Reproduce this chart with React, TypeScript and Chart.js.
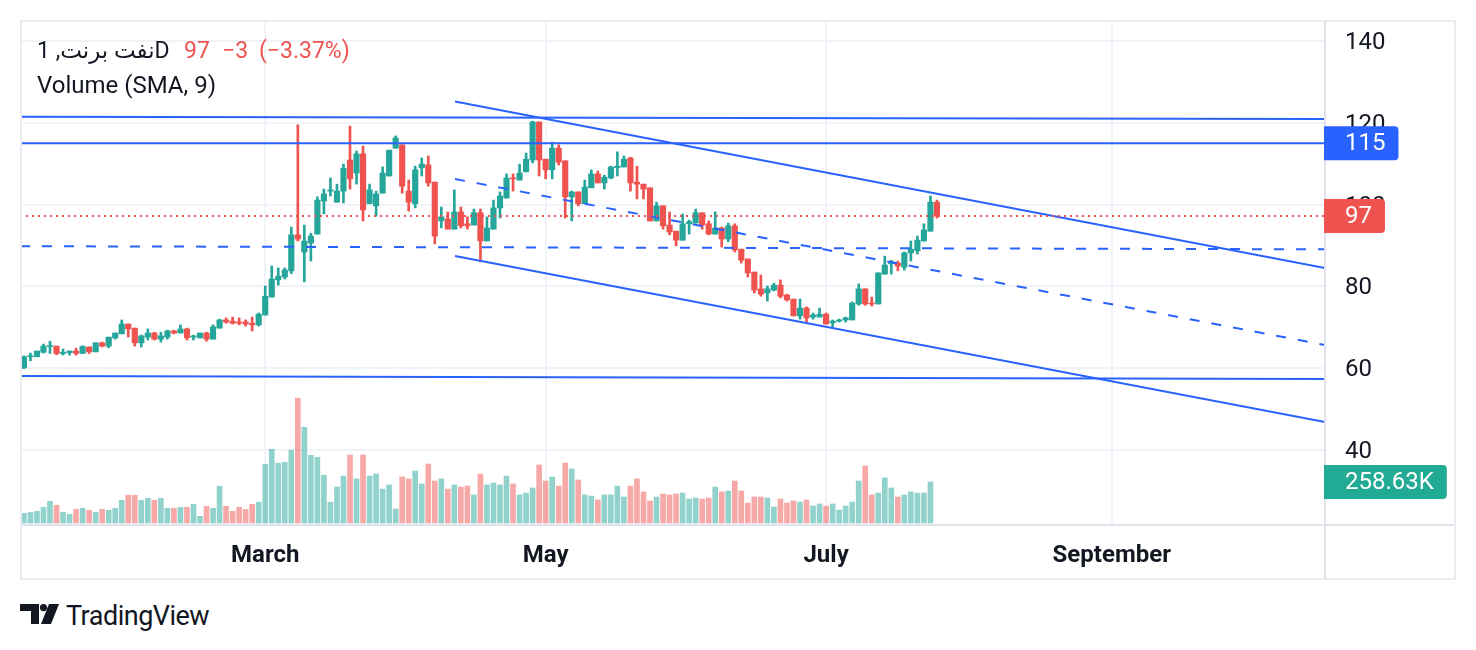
import { useEffect, useRef } from "react";
import { Chart, registerables } from "chart.js";

Chart.register(...registerables);

// Daily candles, index 0 = first bar on the left
const opens = [
  60.1, 62.8, 62.8, 63.9, 65.3, 65.4, 63.6, 63.8, 64.2, 63.6, 65.2, 64.0, 66.2, 65.4, 67.4, 68.4, 70.8, 69.8, 66.2, 67.6,
  68.6, 67.1, 67.6, 69.1, 68.6, 69.6, 67.6, 67.4, 68.6, 67.1, 69.8, 71.8, 71.5, 71.3, 71.3, 71.0, 70.6, 73.0, 77.4, 81.6,
  82.3, 83.8, 92.6, 88.4, 90.6, 92.8, 100.9, 103.3, 100.6, 103.3, 110.9, 107.7, 112.4, 100.2, 99.7, 102.8, 107.0, 113.8, 114.6, 103.3,
  100.2, 109.0, 109.7, 105.5, 96.0, 96.5, 94.0, 98.2, 95.3, 95.0, 98.0, 91.1, 94.0, 99.2, 101.6, 106.5, 106.0, 108.0, 110.9, 120.2,
  111.1, 108.5, 113.8, 110.7, 101.9, 103.1, 100.2, 104.1, 107.5, 105.3, 106.5, 109.0, 109.2, 111.4, 105.5, 105.0, 104.1, 96.0, 99.7, 95.0,
  93.5, 91.3, 95.3, 95.5, 98.0, 95.3, 92.8, 94.3, 91.6, 94.8, 89.1, 86.7, 83.5, 79.4, 78.4, 79.1, 80.3, 77.9, 76.9, 72.8,
  74.7, 72.5, 72.5, 73.2, 71.1, 71.5, 71.8, 71.8, 75.7, 79.4, 75.9, 75.7, 83.0, 85.5, 85.7, 84.7, 88.2, 88.7, 91.1, 93.5,
  100.6,
];
const highs = [
  63.0, 63.7, 64.2, 65.9, 66.6, 65.4, 64.7, 64.2, 64.9, 65.5, 65.2, 66.2, 66.4, 67.6, 68.6, 71.8, 70.8, 69.8, 68.1, 69.6,
  68.8, 68.8, 69.3, 69.3, 70.6, 69.8, 68.1, 68.6, 68.8, 70.6, 72.0, 72.3, 72.5, 72.3, 71.8, 72.5, 73.5, 80.1, 85.0, 84.5,
  84.5, 94.5, 119.5, 95.0, 93.0, 101.9, 103.8, 106.5, 105.0, 109.9, 119.2, 113.1, 114.3, 105.0, 103.3, 109.2, 113.3, 116.8, 114.6, 106.0,
  109.4, 111.4, 111.9, 105.5, 99.4, 98.2, 103.6, 99.4, 97.0, 98.9, 98.9, 97.0, 101.1, 103.1, 107.5, 107.5, 109.9, 112.6, 120.4, 120.2,
  111.1, 115.3, 114.6, 110.7, 103.3, 103.1, 106.0, 108.5, 108.2, 107.2, 109.4, 112.9, 111.9, 111.6, 109.4, 105.0, 104.1, 100.6, 99.7, 98.2,
  93.5, 97.7, 96.2, 98.9, 98.0, 96.0, 98.2, 94.5, 95.5, 95.3, 89.1, 86.7, 83.5, 82.8, 80.1, 80.8, 81.6, 78.1, 76.9, 76.9,
  75.0, 73.5, 74.7, 73.5, 71.8, 72.0, 72.5, 76.2, 80.6, 79.4, 77.4, 83.3, 87.4, 86.4, 86.2, 88.4, 91.1, 92.3, 95.3, 102.1,
  101.1,
];
const lows = [
  59.9, 61.8, 62.8, 63.7, 63.6, 63.3, 63.2, 63.2, 63.2, 63.6, 63.6, 64.0, 65.2, 65.0, 67.1, 68.4, 67.6, 65.4, 65.2, 66.9,
  66.9, 66.4, 67.1, 68.4, 68.6, 66.9, 66.9, 67.4, 66.6, 67.1, 69.8, 71.0, 70.8, 70.6, 70.3, 69.1, 70.3, 73.0, 77.4, 80.3,
  81.8, 83.1, 91.1, 81.1, 86.2, 92.8, 97.7, 102.1, 100.6, 100.4, 103.8, 105.0, 96.0, 100.2, 97.2, 102.8, 107.0, 113.8, 102.8, 98.4,
  99.2, 107.0, 104.5, 90.4, 94.3, 94.0, 94.0, 94.3, 94.0, 95.0, 86.0, 91.1, 94.0, 96.7, 101.6, 103.3, 106.0, 108.0, 110.2, 107.0,
  106.3, 106.3, 109.7, 96.7, 96.0, 99.7, 100.2, 104.1, 105.3, 103.8, 106.3, 107.0, 109.2, 103.3, 101.4, 101.4, 96.0, 96.0, 94.0, 92.6,
  89.9, 91.3, 92.8, 95.5, 94.0, 92.6, 92.8, 89.6, 90.9, 88.4, 85.7, 82.3, 78.4, 77.6, 76.4, 78.9, 77.2, 76.4, 72.8, 72.0,
  71.3, 72.0, 72.5, 70.8, 70.1, 71.3, 71.3, 71.8, 75.4, 75.4, 75.2, 75.7, 83.0, 83.0, 83.8, 84.0, 86.2, 87.9, 91.1, 93.5,
  96.7,
];
const closes = [
  62.8, 63.0, 64.2, 65.4, 65.5, 63.6, 63.9, 64.2, 63.6, 65.3, 64.0, 66.2, 65.4, 67.6, 68.6, 70.8, 69.6, 66.2, 67.9, 68.6,
  67.1, 67.9, 69.1, 68.6, 69.6, 67.4, 67.9, 68.6, 67.1, 70.1, 71.8, 71.3, 71.0, 71.0, 70.8, 70.6, 73.2, 77.6, 81.8, 82.5,
  84.0, 92.6, 91.6, 91.1, 92.3, 101.1, 102.6, 103.6, 103.3, 108.9, 106.3, 112.4, 98.7, 103.6, 102.6, 107.7, 113.3, 116.3, 104.5, 100.6,
  108.5, 109.9, 105.3, 92.3, 97.0, 94.0, 98.2, 94.8, 94.8, 98.0, 91.1, 94.3, 99.2, 102.1, 106.5, 106.3, 107.7, 111.1, 120.2, 110.9,
  108.5, 113.8, 110.4, 101.9, 103.1, 100.2, 104.3, 107.5, 105.3, 106.7, 109.2, 109.4, 111.1, 105.3, 105.0, 103.8, 96.0, 99.7, 94.8, 93.3,
  91.3, 95.3, 95.8, 98.0, 95.0, 92.8, 94.3, 91.6, 94.8, 88.9, 86.4, 83.3, 79.1, 78.1, 79.4, 80.3, 77.6, 76.7, 72.8, 74.7,
  72.3, 73.0, 73.2, 70.8, 71.5, 71.8, 72.3, 75.9, 79.4, 75.7, 75.7, 83.3, 85.2, 86.0, 85.0, 88.2, 89.1, 91.3, 93.8, 100.6,
  97.21,
];
// volume in thousands; the last (current) bar has no volume bar yet
const volumes = [
  61, 67, 74, 99, 137, 112, 67, 55, 86, 93, 80, 67, 86, 80, 93, 143, 175, 175, 143, 156,
  143, 156, 93, 93, 99, 99, 118, 42, 105, 93, 232, 105, 74, 99, 86, 118, 131, 370, 465, 377,
  383, 459, 787, 604, 427, 414, 301, 131, 227, 296, 429, 278, 429, 296, 309, 214, 240, 88, 290, 278,
  328, 246, 372, 265, 278, 214, 240, 227, 233, 177, 309, 240, 252, 240, 296, 246, 177, 189, 221, 366,
  265, 290, 233, 378, 341, 271, 177, 170, 145, 177, 177, 233, 164, 233, 278, 196, 139, 164, 183, 177,
  183, 189, 151, 158, 151, 158, 227, 196, 202, 265, 202, 126, 164, 164, 158, 101, 151, 126, 139, 132,
  145, 107, 120, 107, 120, 82, 107, 132, 265, 360, 177, 189, 284, 221, 164, 177, 196, 189, 189, 258.63,
  null,
];

const monthTicks = [37, 80, 123, 166.8];
const monthLabels = ["March", "May", "July", "September"];
const priceTicks = [40, 60, 80, 100, 120, 140];

// drawing tools (bar index, price)
const topLine = [{ x: -0.6, y: 121.45 }, { x: 199.5, y: 120.95 }];
const level115 = [{ x: -0.6, y: 115 }, { x: 199.5, y: 115 }];
const dashedLevel = [{ x: -0.6, y: 89.83 }, { x: 199.5, y: 89.07 }];
const bottomLine = [{ x: -0.6, y: 58.09 }, { x: 199.5, y: 57.36 }];
const channelUpper = [{ x: 66.1, y: 125.21 }, { x: 199.5, y: 84.5 }];
const channelMid = [{ x: 66.1, y: 106.26 }, { x: 199.5, y: 65.67 }];
const channelLower = [{ x: 66.1, y: 87.43 }, { x: 199.5, y: 46.85 }];

const UP = "#26a69a";
const DOWN = "#ef5350";
const BLUE = "#2962ff";
const FONT = "Roboto, 'DejaVu Sans', sans-serif";

const overlayPlugin = {
  id: "tvOverlay",
  afterDraw(chart: any) {
    const { ctx, chartArea, width, height } = chart;
    const y = chart.scales.y;
    const yv = chart.scales.yv;
    ctx.save();

    // last price dotted line
    const lastClose = closes[closes.length - 1];
    const py = y.getPixelForValue(lastClose);
    ctx.strokeStyle = DOWN;
    ctx.lineWidth = 2;
    ctx.setLineDash([2, 4]);
    ctx.beginPath();
    ctx.moveTo(chartArea.left, py);
    ctx.lineTo(chartArea.right, py);
    ctx.stroke();
    ctx.setLineDash([]);

    // pane separators and frame
    ctx.strokeStyle = "#e0e3eb";
    ctx.lineWidth = 2;
    ctx.beginPath();
    ctx.moveTo(chartArea.right, 0);
    ctx.lineTo(chartArea.right, height);
    ctx.moveTo(0, chartArea.bottom);
    ctx.lineTo(width, chartArea.bottom);
    ctx.stroke();
    ctx.strokeStyle = "#eaecf2";
    ctx.strokeRect(1, 1, width - 2, height - 2);

    const badge = (text: string, yc: number, color: string) => {
      ctx.font = `24px ${FONT}`;
      const tw = ctx.measureText(text).width;
      const x0 = chartArea.right - 1;
      const x1 = chartArea.right + 20 + tw + 13;
      const h = 34;
      const r = 4;
      ctx.fillStyle = color;
      ctx.beginPath();
      ctx.moveTo(x0, yc - h / 2);
      ctx.lineTo(x1 - r, yc - h / 2);
      ctx.quadraticCurveTo(x1, yc - h / 2, x1, yc - h / 2 + r);
      ctx.lineTo(x1, yc + h / 2 - r);
      ctx.quadraticCurveTo(x1, yc + h / 2, x1 - r, yc + h / 2);
      ctx.lineTo(x0, yc + h / 2);
      ctx.closePath();
      ctx.fill();
      ctx.fillStyle = "#ffffff";
      ctx.textBaseline = "middle";
      ctx.textAlign = "left";
      ctx.fillText(text, chartArea.right + 20, yc + 1);
    };

    badge("115", y.getPixelForValue(level115[0].y), BLUE);
    badge("97", py, DOWN);
    const lastVol = volumes[volumes.length - 2] as number;
    badge(lastVol.toFixed(2) + "K", yv.getPixelForValue(lastVol), "#22ab94");
    ctx.restore();
  },
};

const App = () => {
  const canvasRef = useRef<HTMLCanvasElement | null>(null);
  const chartRef = useRef<Chart | null>(null);

  useEffect(() => {
    document.body.style.margin = "0";
    if (!canvasRef.current) return;
    if (chartRef.current) chartRef.current.destroy();

    const idx = closes.map((_, i) => i);
    const candleColors = idx.map((i) => (closes[i] >= opens[i] ? UP : DOWN));
    const volColors = idx.map((i) =>
      closes[i] >= opens[i] ? "rgba(38, 166, 154, 0.5)" : "rgba(239, 83, 80, 0.5)"
    );

    const lineDs = (data: { x: number; y: number }[], dashed = false) => ({
      type: "line" as const,
      data,
      borderColor: BLUE,
      borderWidth: 2,
      borderDash: dashed ? [10, 12] : [],
      pointRadius: 0,
      yAxisID: "y",
      order: 0,
    });

    chartRef.current = new Chart(canvasRef.current, {
      type: "bar",
      data: {
        datasets: [
          {
            data: idx.map((i) => ({ x: i, y: volumes[i] })) as any,
            backgroundColor: volColors,
            barThickness: 5,
            grouped: false,
            yAxisID: "yv",
            order: 5,
          },
          {
            data: idx.map((i) => ({ x: i, y: [lows[i], highs[i]] })) as any,
            backgroundColor: candleColors,
            barThickness: 2,
            grouped: false,
            yAxisID: "y",
            order: 4,
          },
          {
            data: idx.map((i) => ({ x: i, y: [opens[i], closes[i]] })) as any,
            backgroundColor: candleColors,
            barThickness: 5.5,
            minBarLength: 1,
            grouped: false,
            yAxisID: "y",
            order: 3,
          },
          lineDs(topLine),
          lineDs(level115),
          lineDs(dashedLevel, true),
          lineDs(bottomLine),
          lineDs(channelUpper),
          lineDs(channelMid, true),
          lineDs(channelLower),
        ] as any,
      },
      options: {
        animation: false,
        responsive: true,
        maintainAspectRatio: false,
        events: [],
        layout: { padding: 0, autoPadding: false },
        plugins: {
          legend: { display: false },
          tooltip: { enabled: false },
        },
        scales: {
          x: {
            type: "linear",
            min: -0.6,
            max: 199.5,
            offset: false,
            afterBuildTicks: (s: any) => {
              s.ticks = monthTicks.map((v) => ({ value: v }));
            },
            afterFit: (s: any) => {
              s.height = 55;
              s.paddingLeft = 0;
              s.paddingRight = 0;
            },
            grid: { color: "#f0f3fa", lineWidth: 2, drawTicks: false, offset: false },
            border: { display: false },
            ticks: {
              autoSkip: false,
              maxRotation: 0,
              padding: 17,
              color: "#131722",
              font: { family: FONT, size: 24, weight: "bold" },
              callback: (_v: any, i: number) => monthLabels[i],
            },
          },
          y: {
            type: "linear",
            position: "right",
            min: 21.663,
            max: 145.134,
            afterBuildTicks: (s: any) => {
              s.ticks = priceTicks.map((v) => ({ value: v }));
            },
            afterFit: (s: any) => {
              s.width = 131;
              // labels sit inside the pane; no extra room above or below
              s.paddingTop = 0;
              s.paddingBottom = 0;
            },
            grid: { color: "#f0f3fa", lineWidth: 2, drawTicks: false },
            border: { display: false },
            ticks: {
              padding: 20,
              labelOffset: 2,
              color: "#131722",
              font: { family: FONT, size: 24 },
            },
          },
          yv: {
            type: "linear",
            display: false,
            min: -12.6,
            max: 3172.9,
          },
        },
      },
      plugins: [overlayPlugin],
    });

    return () => {
      if (chartRef.current) {
        chartRef.current.destroy();
        chartRef.current = null;
      }
    };
  }, []);

  const text = { position: "absolute" as const, whiteSpace: "nowrap" as const, fontFamily: FONT };

  return (
    <div style={{ position: "absolute", left: 0, top: 0, width: 1476, height: 650, background: "#ffffff", overflow: "hidden" }}>
      <div style={{ position: "absolute", left: 20, top: 20, width: 1436, height: 560 }}>
        <canvas ref={canvasRef}></canvas>
      </div>

      {/* legend */}
      <div style={{ ...text, left: 37, top: 38.5, fontSize: 23, lineHeight: "23px", color: "#131722" }}>نفت برنت, 1D</div>
      <div style={{ ...text, left: 184, top: 38.5, fontSize: 23, lineHeight: "23px", color: DOWN }}>97</div>
      <div style={{ ...text, left: 222, top: 38.5, fontSize: 23, lineHeight: "23px", color: DOWN }}>−3</div>
      <div style={{ ...text, left: 259, top: 38.5, fontSize: 23, lineHeight: "23px", color: DOWN }}>(−3.37%)</div>
      <div style={{ ...text, left: 37, top: 73, fontSize: 24, lineHeight: "24px", color: "#131722" }}>Volume (SMA, 9)</div>

      {/* logo */}
      <svg style={{ position: "absolute", left: 20, top: 604 }} width="40" height="21" viewBox="0 0 40 21">
        <path d="M0 0 H19 V20 H11 V7 H0 Z" fill="#131722" />
        <circle cx="23.5" cy="3.6" r="3.6" fill="#131722" />
        <path d="M29 0 H39 L31 20 H21 Z" fill="#131722" />
      </svg>
      <div style={{ ...text, left: 66, top: 603, fontSize: 27, lineHeight: "27px", color: "#131722", letterSpacing: -0.5 }}>
        TradingView
      </div>
    </div>
  );
};

export default App;
